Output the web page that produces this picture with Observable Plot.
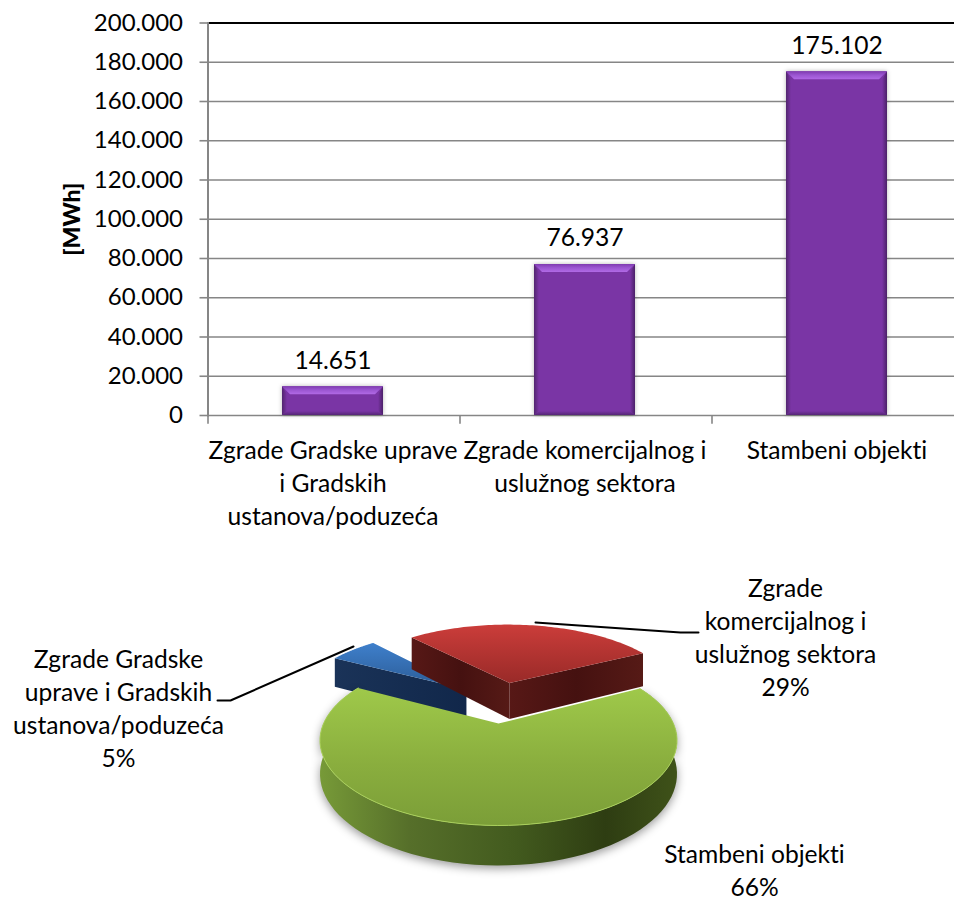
<!DOCTYPE html>
<html>
<head>
<meta charset="utf-8">
<script src="https://cdn.jsdelivr.net/npm/d3@7"></script>
<script src="https://cdn.jsdelivr.net/npm/@observablehq/plot@0.6"></script>
<style>
html,body{margin:0;padding:0;background:#fff}
svg{display:block}
svg text{font-variant-ligatures:none;font-feature-settings:"liga" 0,"clig" 0}
</style>
</head>
<body>
<div id="chart"></div>
<script>
// ---- data ----
const categories = ["Zgrade Gradske uprave", "Zgrade komercijalnog i", "Stambeni objekti"];
const categoryTickLabels = [
  "Zgrade Gradske uprave\ni Gradskih\nustanova/poduzeća",
  "Zgrade komercijalnog i\nuslužnog sektora",
  "Stambeni objekti"
];
const values = [14651, 76937, 175102];
const yTicks = [0, 20000, 40000, 60000, 80000, 100000, 120000, 140000, 160000, 180000, 200000];
const pieLabels = [
  "Zgrade Gradske\nuprave i Gradskih\nustanova/poduzeća",
  "Zgrade\nkomercijalnog i\nuslužnog sektora",
  "Stambeni objekti"
];
const axisTitle = "[MWh]";

// ---- style ----
const FONT = "Lato, Carlito, sans-serif";
const FS = 24.6;
const LH = 33 / FS;
const GRID = "#868686";
const thousands = d => d3.format(",")(d).replace(/,/g, ".");

function defs(html) {
  return () => {
    const s = document.createElementNS("http://www.w3.org/2000/svg", "defs");
    s.innerHTML = html;
    return s;
  };
}
const grad = (id, vertical, stops) =>
  `<linearGradient id="${id}" x1="0" y1="0" x2="${vertical ? 0 : 1}" y2="${vertical ? 1 : 0}">` +
  stops.map(([o, c]) => `<stop offset="${o}" stop-color="${c}"/>`).join("") + `</linearGradient>`;

// bevel drawn on every bar, measured from the rect the bar mark produced
function bevel(index, scales, channels, dims, ctx, next) {
  const g = next(index, scales, channels, dims, ctx);
  const NS = "http://www.w3.org/2000/svg";
  g.querySelectorAll("rect").forEach(r => {
    const x = +r.getAttribute("x"), y = +r.getAttribute("y");
    const w = +r.getAttribute("width"), h = +r.getAttribute("height");
    const t = 8, s = 5, b = 4;
    const add = (pts, fill) => {
      const p = document.createElementNS(NS, "polygon");
      p.setAttribute("points", pts.map(q => q.join(",")).join(" "));
      p.setAttribute("fill", fill);
      r.parentNode.appendChild(p);
    };
    add([[x, y], [x + s, y + t], [x + s, y + h - b], [x, y + h]], "url(#bevL)");
    add([[x + w, y], [x + w - s, y + t], [x + w - s, y + h - b], [x + w, y + h]], "url(#bevR)");
    add([[x, y + h], [x + s, y + h - b], [x + w - s, y + h - b], [x + w, y + h]], "url(#bevB)");
    add([[x, y], [x + w, y], [x + w - t, y + t], [x + t, y + t]], "url(#bevT)");
  });
  return g;
}

const rows = categories.map((c, i) => ({c, v: values[i]}));

const barChart = Plot.plot({
  width: 954,
  height: 540,
  marginTop: 22.5,
  marginBottom: 125,
  marginLeft: 207.5,
  marginRight: 0,
  style: {fontFamily: FONT, fontSize: FS + "px", color: "#000", background: "#fff", overflow: "hidden"},
  x: {type: "band", domain: categories, range: [206, 963.5], paddingInner: 0.6, paddingOuter: 0.3, label: null},
  y: {domain: [0, 200000], label: null},
  marks: [
    defs(
      grad("bevT", true, [[0, "#7f3bb0"], [0.45, "#9a55d0"], [1, "#b16ae6"]]) +
      grad("bevL", false, [[0, "#52256f"], [1, "#7a35a5"]]) +
      grad("bevR", false, [[0, "#7a35a5"], [1, "#4b2068"]]) +
      grad("bevB", true, [[0, "#7a35a5"], [1, "#552676"]]) +
      grad("gTop", true, [[0, "#9fc94a"], [0.55, "#8aae3e"], [1, "#7b9e38"]]) +
      grad("gWall", false, [[0, "#779a38"], [0.25, "#566f2a"], [0.55, "#425a1e"], [0.8, "#2e3d12"], [1, "#3f5219"]]) +
      grad("rTop", true, [[0, "#cb3d3a"], [1, "#992a28"]]) +
      grad("rWall", false, [[0, "#571816"], [0.5, "#451110"], [1, "#561a16"]]) +
      grad("bTop", true, [[0, "#3f80cc"], [1, "#2a5a94"]]) +
      grad("bWall", false, [[0, "#1a3358"], [1, "#11274a"]])
    ),
    Plot.ruleY(yTicks.slice(0, -1), {stroke: GRID, strokeWidth: 1.6}),
    Plot.ruleY(yTicks.slice(-1), {stroke: "#000", strokeWidth: 2}),
    Plot.frame({anchor: "left", stroke: GRID, strokeWidth: 2}),
    Plot.ruleX(categories, {x: d => d, dx: -125, y1: 0, y2: -4500, stroke: GRID, strokeWidth: 1.6}),
    Plot.axisY({
      ticks: yTicks, tickFormat: thousands, tickSize: 8, tickPadding: 17,
      stroke: GRID, strokeWidth: 1.6, fill: "#000", label: null, fontSize: 24
    }),
    Plot.axisX({
      tickSize: 0, tickPadding: 20, lineHeight: LH, lineAnchor: "top",
      tickFormat: (d, i) => categoryTickLabels[categories.indexOf(d)], label: null, fill: "#000"
    }),
    Plot.text([axisTitle], {
      text: d => d, frameAnchor: "left", textAnchor: "middle", dx: -135.5, rotate: -90,
      fontWeight: 900, fontSize: 23, fill: "#000"
    }),
    Plot.barY(rows, {
      x: "c", y: "v", fill: "#7a35a5", render: bevel,
      imageFilter: "drop-shadow(0 0 2px rgba(0,0,0,.28))"
    }),
    Plot.text(rows, {x: "c", y: "v", text: d => thousands(d.v), dy: -26, fill: "#000"})
  ]
});

// ---- pie: slices from the values, drawn through a perspective tilt ----
const START = 298.5 * Math.PI / 180;
const slices = d3.pie().sort(null).startAngle(START).endAngle(START + 2 * Math.PI)(values);
const A = 81.6, B = 174.9, K = 0.2;          // tilt of the disc
const explode = [[-0.2, 0.455], [0.07, 0.55], [0, 0]];
const radius = [1.04, 1.05, 1];
const depth = [34, 40, 32];
const total = d3.sum(values);

function pt(i, r, a, d = 0) {
  const u = r * radius[i] * Math.sin(a) + explode[i][0];
  const v = r * radius[i] * Math.cos(a) + explode[i][1];
  const den = 1 + K * v;
  return {x: B * u / den, y: -A * v / den + d / den};
}
const arc = (i, d = 0) => {
  const s = slices[i], n = 80;
  return d3.range(n + 1).map(j => pt(i, 1, s.startAngle + (s.endAngle - s.startAngle) * j / n, d));
};
const topFace = i => [pt(i, 0, 0), ...arc(i)];
const radial = (i, a) => [pt(i, 1, a), pt(i, 0, 0), pt(i, 0, 0, depth[i]), pt(i, 1, a, depth[i])];
const outerWall = i => [...arc(i), ...arc(i, depth[i]).reverse()];
const face = (pts, fill, extra = {}) => Plot.line(pts, {x: "x", y: "y", fill, stroke: "none", ...extra});

const labelRows = [
  {x: -380, y: -16.5, i: 0},
  {x: 287, y: -88, i: 1},
  {x: 256, y: 145.5, i: 2}
];
const leaderBlue = [{x: -281, y: -23}, {x: -268, y: -23}, {x: -145, y: -77}];
const leaderRed = [{x: 37, y: -101}, {x: 182, y: -91}, {x: 200, y: -91}];

const pieChart = Plot.plot({
  width: 954,
  height: 360,
  margin: 0,
  style: {fontFamily: FONT, fontSize: FS + "px", color: "#000", background: "transparent", overflow: "hidden"},
  x: {domain: [-498, 456], range: [0, 954], axis: null},
  y: {domain: [-183, 177], range: [0, 360], axis: null},
  marks: [
    // blue
    face(radial(0, slices[0].startAngle), "url(#bWall)"),
    face(topFace(0), "url(#bTop)"),
    // red
    face(radial(1, slices[1].startAngle), "url(#rWall)"),
    face(radial(1, slices[1].endAngle), "url(#rWall)"),
    face(topFace(1), "url(#rTop)"),
    // green
    face(outerWall(2), "url(#gWall)", {imageFilter: "drop-shadow(0 3px 5px rgba(0,0,0,.4))"}),
    face(topFace(2), "url(#gTop)"),
    Plot.line(arc(2), {x: "x", y: "y", stroke: "#a9d05a", strokeWidth: 1}),
    // leaders
    Plot.line(leaderBlue, {x: "x", y: "y", stroke: "#000", strokeWidth: 2}),
    Plot.line(leaderRed, {x: "x", y: "y", stroke: "#000", strokeWidth: 2}),
    Plot.text(labelRows, {
      x: "x", y: "y", lineHeight: LH, fill: "#000",
      text: d => pieLabels[d.i] + "\n" + d3.format(".0%")(values[d.i] / total)
    })
  ]
});

const host = document.getElementById("chart");
host.append(barChart, pieChart);
</script>
</body>
</html>
